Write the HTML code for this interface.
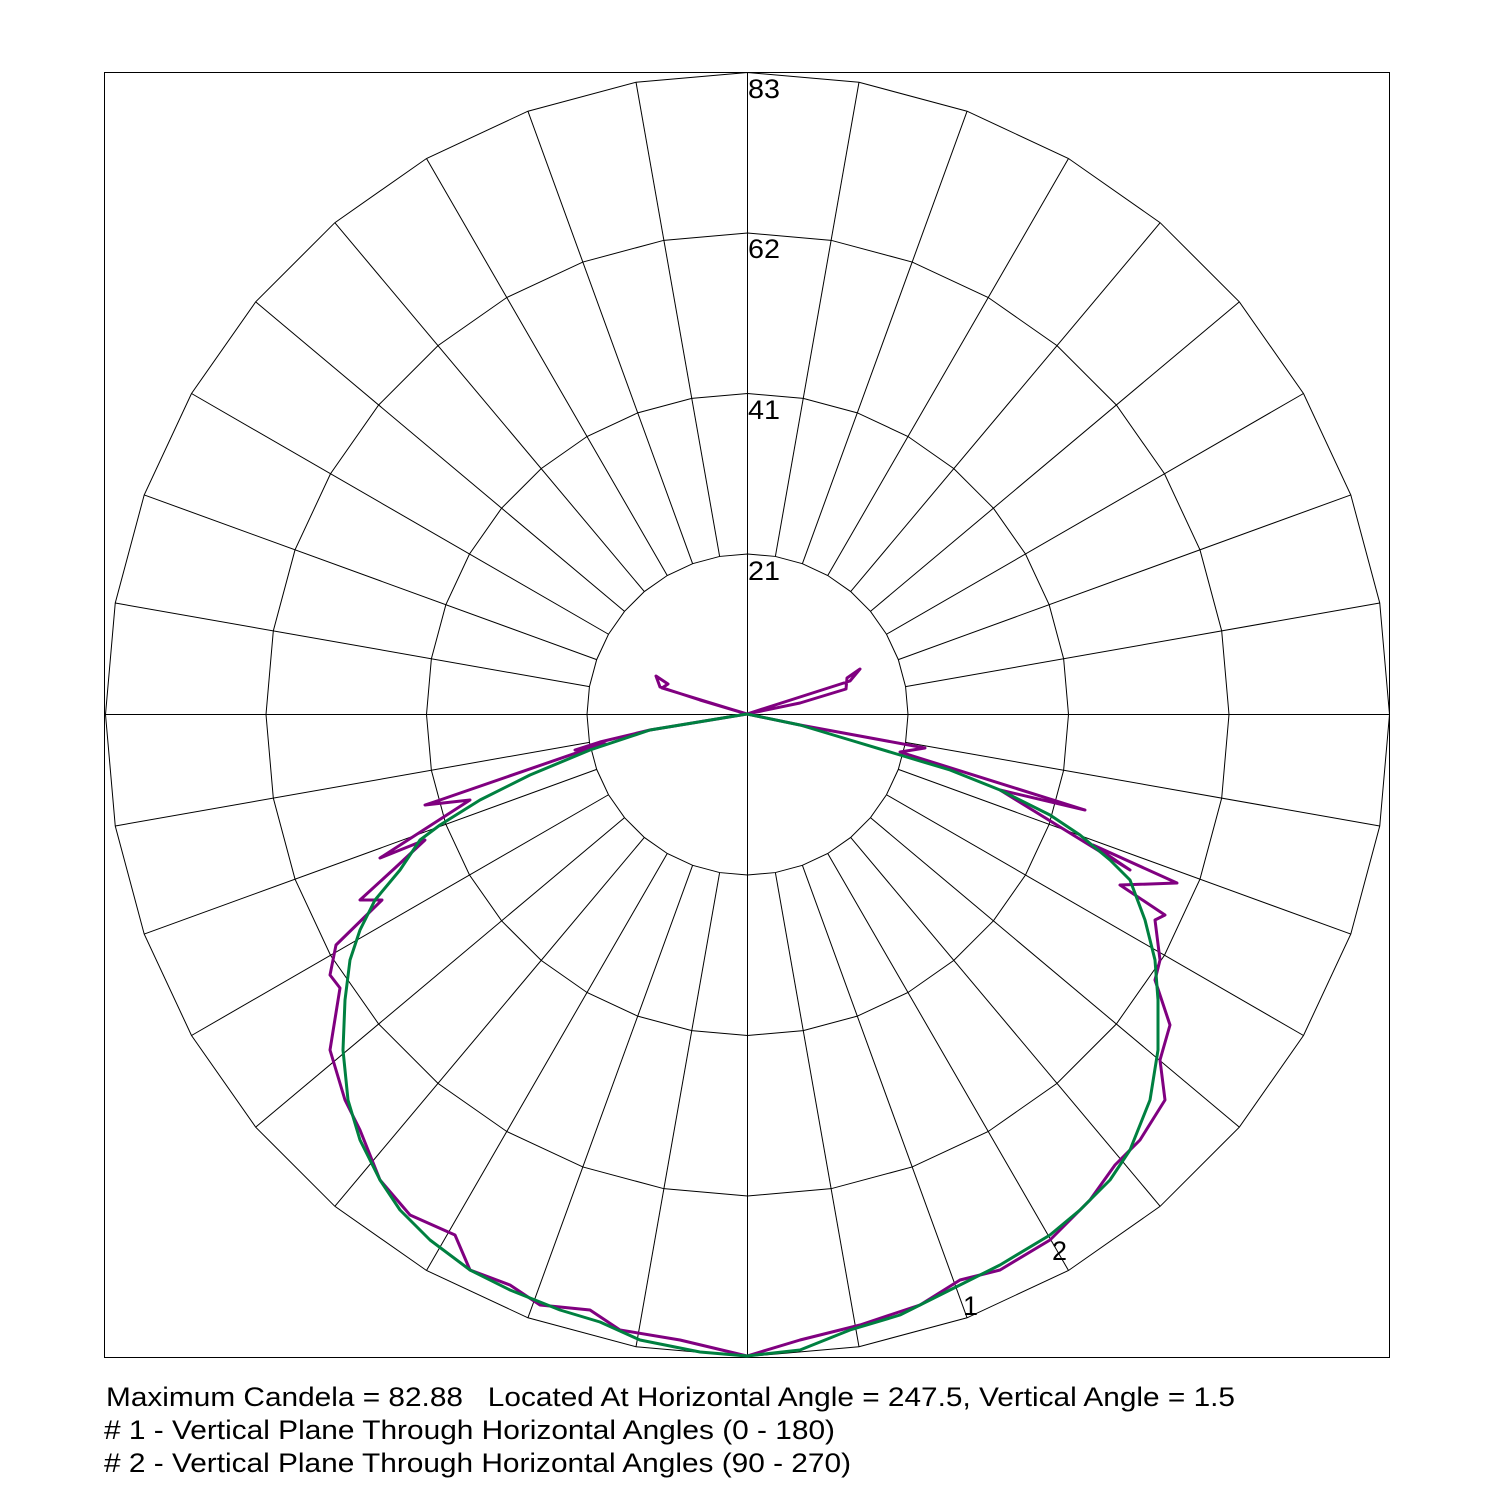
<!DOCTYPE html>
<html><head><style>body{margin:0;background:#fff}svg{display:block}</style></head>
<body>
<svg id="s" width="1500" height="1500" xmlns="http://www.w3.org/2000/svg" font-family="Liberation Sans, Arial, sans-serif">
<rect x="104.5" y="72.5" width="1285" height="1285" fill="none" stroke="#000" stroke-width="1"/>
<g id="grid" stroke="#000" stroke-width="1" fill="none"></g>
<g font-size="27" fill="#000">
<text x="748" y="98" textLength="32" lengthAdjust="spacingAndGlyphs">83</text><text x="748" y="258" textLength="32" lengthAdjust="spacingAndGlyphs">62</text><text x="748" y="419" textLength="32" lengthAdjust="spacingAndGlyphs">41</text><text x="748" y="580" textLength="32" lengthAdjust="spacingAndGlyphs">21</text>
<text x="963" y="1315">1</text><text x="1052" y="1260">2</text>
<text x="106" y="1406" xml:space="preserve" textLength="1129" lengthAdjust="spacingAndGlyphs">Maximum Candela = 82.88   Located At Horizontal Angle = 247.5, Vertical Angle = 1.5</text>
<text x="104" y="1439" textLength="731" lengthAdjust="spacingAndGlyphs"># 1 - Vertical Plane Through Horizontal Angles (0 - 180)</text>
<text x="104" y="1472" textLength="747" lengthAdjust="spacingAndGlyphs"># 2 - Vertical Plane Through Horizontal Angles (90 - 270)</text>
</g>
<polyline fill="none" stroke="#800080" stroke-width="3" stroke-linejoin="round" points="747,714 700,700 660,687 656,676 668,684 662,688 747,714 800,697 850,681 860,669 847,678 846,689 800,703 747,714 650,730 600,742 575,750 605,743 440,800 425,805 470,800 380,858 425,840 395,868 360,900 382,900 336,945 330,975 340,988 330,1050 345,1100 360,1130 380,1180 410,1215 455,1235 470,1270 510,1285 540,1305 590,1310 620,1330 680,1340 747,1356 800,1340 860,1325 920,1305 960,1280 1000,1270 1050,1240 1090,1200 1115,1165 1140,1140 1165,1100 1160,1060 1170,1025 1155,980 1160,960 1155,920 1165,915 1120,885 1177,883 1093,845 1130,870 1000,790 1085,810 900,752 925,748 800,725 747,714"/>
<polyline fill="none" stroke="#008040" stroke-width="3" stroke-linejoin="round" points="747,714 650,730 590,750 530,775 480,800 440,825 420,840 400,870 375,900 360,930 350,960 345,1000 343,1050 348,1100 360,1140 380,1180 400,1210 430,1240 470,1270 510,1290 560,1310 600,1322 640,1340 700,1352 747,1356 800,1350 850,1330 900,1315 960,1285 1000,1265 1050,1235 1080,1210 1110,1180 1130,1150 1150,1100 1158,1050 1158,1000 1155,960 1145,920 1130,880 1110,860 1080,835 1050,815 1000,790 950,770 900,755 850,740 800,725 747,714"/>
</svg>
<script>
var g=document.getElementById('grid'),cx=747.5,cy=714.5,R=[160.5,321,481.5,642],h='';
for(var k=0;k<36;k++){var a=k*Math.PI/18,s=Math.sin(a),c=Math.cos(a);
h+='<line x1="'+(cx+s*(k%9==0?0:R[0]))+'" y1="'+(cy-c*(k%9==0?0:R[0]))+'" x2="'+(cx+s*R[3])+'" y2="'+(cy-c*R[3])+'"/>';}
R.forEach(function(r){var p=[];for(var k=0;k<36;k++){var a=k*Math.PI/18;p.push((cx+Math.sin(a)*r)+','+(cy-Math.cos(a)*r));}
h+='<polygon points="'+p.join(' ')+'"/>';});
g.innerHTML=h;
</script>
</body></html>
